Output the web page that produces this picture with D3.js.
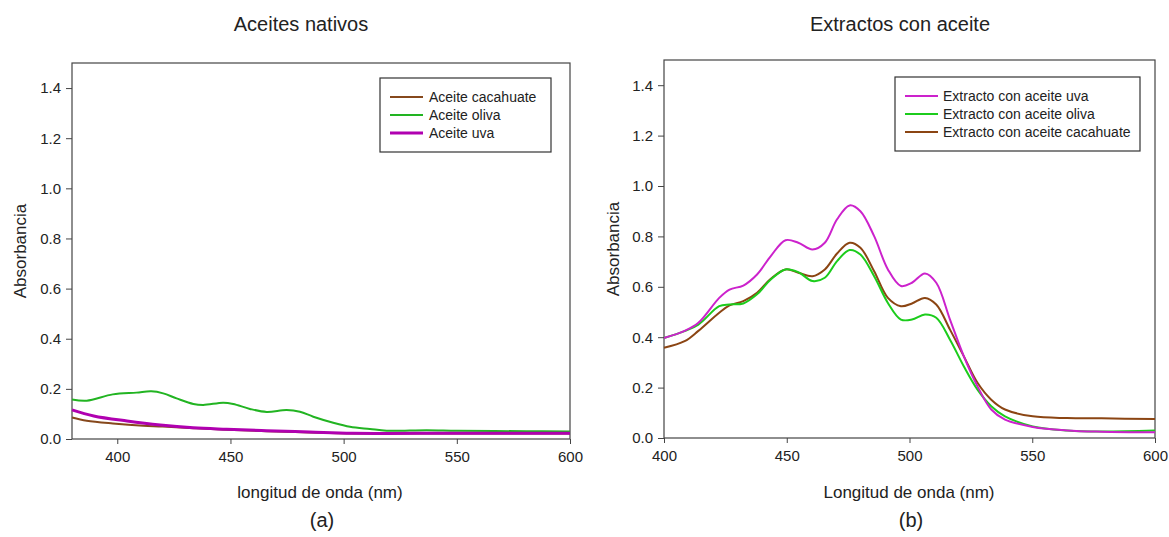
<!DOCTYPE html>
<html>
<head>
<meta charset="utf-8">
<script src="https://cdn.jsdelivr.net/npm/d3@7"></script>
<style>
  body { margin: 0; background: #fff; }
  text { font-family: "Liberation Sans", Arial, sans-serif; fill: #222; }
</style>
</head>
<body>
<div id="chart"></div>
<script>
// Panel (a): native oils, wavelength (nm) vs absorbance
var nmOliva = [380, 386.5, 398, 408.5, 415, 420.3, 426.2, 433.6, 438, 446.8, 451.2, 458.6, 466, 474.8, 480.7, 486.6, 495.4, 502.8, 511.6, 519, 536.7, 550, 580.8, 600]
var absOliva = [0.158, 0.153, 0.178, 0.185, 0.19, 0.182, 0.162, 0.14, 0.136, 0.145, 0.14, 0.12, 0.108, 0.116, 0.109, 0.089, 0.065, 0.049, 0.04, 0.033, 0.035, 0.033, 0.031, 0.03]
var nmUvaA = [380, 389.6, 404.3, 419, 433.6, 448.3, 466, 485, 504, 550, 600]
var absUvaA = [0.116, 0.092, 0.072, 0.056, 0.045, 0.039, 0.033, 0.028, 0.023, 0.023, 0.023]
var nmCacA = [380, 386.5, 398, 411.5, 420, 433.6, 448.3, 466, 485, 504, 550, 600]
var absCacA = [0.086, 0.073, 0.062, 0.053, 0.05, 0.043, 0.037, 0.031, 0.026, 0.022, 0.022, 0.022]

// Panel (b): extracts with oil
var nmB = [400, 408.4, 414, 422.5, 426.7, 432.3, 437.9, 443.5, 449.5, 454.7, 460.5, 465.5, 470.5, 475.6, 480, 485.6, 491.2, 496.5, 501, 506.3, 510.9, 516.5, 522.1, 527.7, 533.3, 538.9, 550.2, 564.2, 578.2, 600]
var absUvaB = [0.397, 0.425, 0.457, 0.556, 0.589, 0.605, 0.649, 0.722, 0.785, 0.775, 0.748, 0.775, 0.868, 0.923, 0.9, 0.801, 0.669, 0.603, 0.616, 0.653, 0.616, 0.47, 0.325, 0.205, 0.113, 0.073, 0.044, 0.030, 0.025, 0.0225]
var absOlivaB = [0.397, 0.424, 0.45, 0.523, 0.53, 0.534, 0.57, 0.629, 0.669, 0.658, 0.623, 0.636, 0.702, 0.746, 0.728, 0.642, 0.536, 0.47, 0.47, 0.49, 0.477, 0.39, 0.285, 0.192, 0.126, 0.086, 0.046, 0.030, 0.026, 0.03]
var absCacB = [0.358, 0.384, 0.425, 0.497, 0.526, 0.543, 0.576, 0.632, 0.669, 0.656, 0.642, 0.669, 0.732, 0.775, 0.755, 0.662, 0.556, 0.523, 0.534, 0.556, 0.53, 0.43, 0.325, 0.219, 0.152, 0.113, 0.086, 0.079, 0.078, 0.075]

var yTicks = [0, 0.2, 0.4, 0.6, 0.8, 1.0, 1.2, 1.4]
var xTicks = [400, 450, 500, 550, 600]

var brown = "#86481c", green = "#22b422", purple = "#b000b0"

var svg = d3.select("#chart").append("svg")
  .attr("width", 1169)
  .attr("height", 537)

function zip(xs, ys) {
  return xs.map(function(x, i) { return [x, ys[i]] })
}

function panel(opt) {
  var x = d3.scaleLinear().domain(opt.xDomain).range([opt.left, opt.right])
  var y = d3.scaleLinear().domain([0, 1.5]).range([opt.bottom, opt.top])
  var g = svg.append("g")

  // frame
  g.append("rect")
    .attr("x", opt.left).attr("y", opt.top)
    .attr("width", opt.right - opt.left).attr("height", opt.bottom - opt.top)
    .attr("fill", "none").attr("stroke", "#444").attr("stroke-width", 1.2)

  var line = d3.line()
    .x(function(d) { return x(d[0]) })
    .y(function(d) { return y(d[1]) })
    .curve(d3.curveCatmullRom.alpha(0.5))

  opt.series.forEach(function(s) {
    g.append("path")
      .attr("d", line(zip(s.nm, s.abs)))
      .attr("fill", "none")
      .attr("stroke", s.color)
      .attr("stroke-width", s.width)
  })

  var xAxis = g.append("g")
    .attr("transform", "translate(0," + opt.bottom + ")")
    .call(d3.axisBottom(x).tickValues(xTicks).tickSize(5).tickPadding(7))
  var yAxis = g.append("g")
    .attr("transform", "translate(" + opt.left + ",0)")
    .call(d3.axisLeft(y).tickValues(yTicks).tickFormat(d3.format(".1f")).tickSize(6).tickPadding(5))
  ;[xAxis, yAxis].forEach(function(a) {
    a.select(".domain").remove()
    a.selectAll("line").attr("stroke", "#444")
    a.selectAll("text").attr("font-size", 15).attr("fill", "#222")
      .attr("font-family", "Liberation Sans, Arial, sans-serif")
  })

  g.append("text").text(opt.title)
    .attr("x", opt.titleX).attr("y", 31)
    .attr("text-anchor", "middle").attr("font-size", 20)
  g.append("text").text(opt.xLabel)
    .attr("x", opt.xLabelX).attr("y", 498)
    .attr("text-anchor", "middle").attr("font-size", 17)
  g.append("text").text(opt.tag)
    .attr("x", opt.xLabelX + 2).attr("y", 527)
    .attr("text-anchor", "middle").attr("font-size", 20)
  g.append("text").text("Absorbancia")
    .attr("transform", "translate(" + opt.yLabelX + "," + ((opt.top + opt.bottom) / 2) + ") rotate(-90)")
    .attr("text-anchor", "middle").attr("font-size", 17)

  // legend
  var lg = g.append("g")
  lg.append("rect")
    .attr("x", opt.legend.x).attr("y", opt.legend.y)
    .attr("width", opt.legend.w).attr("height", opt.legend.h)
    .attr("fill", "#fff").attr("stroke", "#333").attr("stroke-width", 1.2)
  opt.legend.items.forEach(function(s, i) {
    var ly = opt.legend.y + 19 + i * 18
    lg.append("line")
      .attr("x1", opt.legend.x + 10).attr("x2", opt.legend.x + 43)
      .attr("y1", ly).attr("y2", ly)
      .attr("stroke", s.color).attr("stroke-width", s.width)
    lg.append("text").text(s.name)
      .attr("x", opt.legend.x + opt.legend.textDx).attr("y", ly + 5)
      .attr("font-size", 14)
  })
}

var seriesA = [
  { name: "Aceite cacahuate", nm: nmCacA, abs: absCacA, color: brown, width: 2 },
  { name: "Aceite oliva", nm: nmOliva, abs: absOliva, color: green, width: 2 },
  { name: "Aceite uva", nm: nmUvaA, abs: absUvaA, color: purple, width: 3 }
]
panel({
  xDomain: [380, 600], left: 72, right: 570, top: 63, bottom: 439,
  series: seriesA,
  title: "Aceites nativos", titleX: 301,
  xLabel: "longitud de onda (nm)", xLabelX: 320, tag: "(a)", yLabelX: 26,
  legend: { x: 380, y: 78, w: 171, h: 74, textDx: 49, items: seriesA }
})

var seriesB = [
  { name: "Extracto con aceite uva", nm: nmB, abs: absUvaB, color: "#cc22cc", width: 2 },
  { name: "Extracto con aceite oliva", nm: nmB, abs: absOlivaB, color: "#1ccc1c", width: 2 },
  { name: "Extracto con aceite cacahuate", nm: nmB, abs: absCacB, color: "#8b4513", width: 2 }
]
panel({
  xDomain: [400, 600], left: 664, right: 1155, top: 60, bottom: 438,
  series: [seriesB[2], seriesB[1], seriesB[0]],
  title: "Extractos con aceite", titleX: 900,
  xLabel: "Longitud de onda (nm)", xLabelX: 909, tag: "(b)", yLabelX: 619,
  legend: { x: 895, y: 77, w: 245, h: 74, textDx: 48, items: seriesB }
})
</script>
</body>
</html>
